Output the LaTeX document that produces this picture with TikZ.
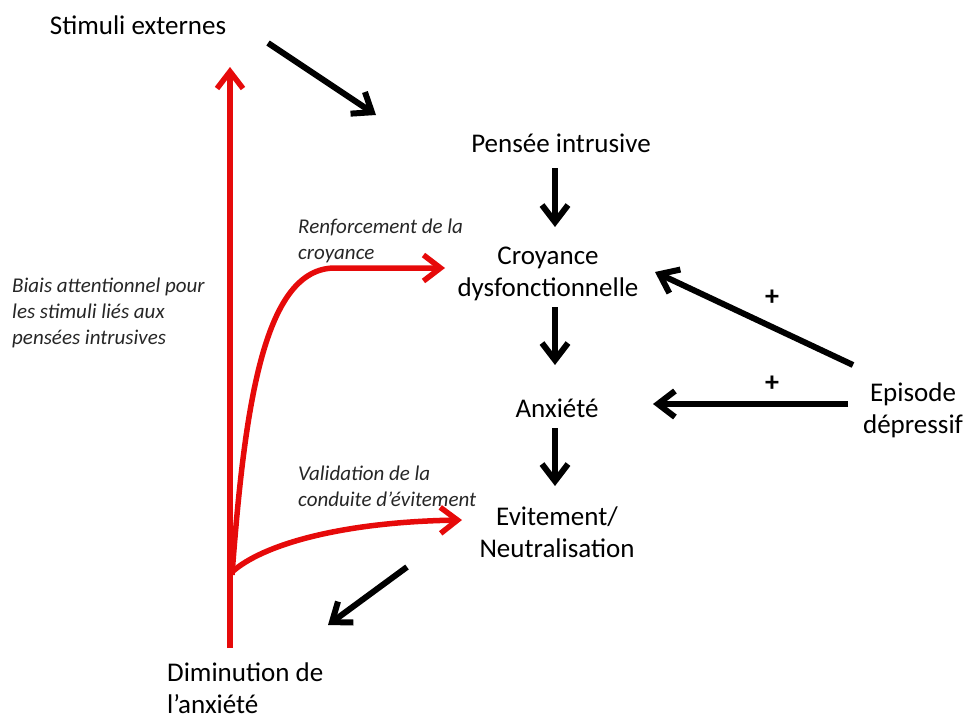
\documentclass[tikz,border=0pt]{standalone}
\usepackage{fontspec}
\setmainfont{Carlito}
\usetikzlibrary{arrows.meta}
\definecolor{myred}{RGB}{230,10,10}
\begin{document}
\begin{tikzpicture}[x=1pt,y=-1pt,
  lbl/.style={inner sep=0pt, font=\fontsize{27}{32}\selectfont, align=center},
  ital/.style={inner sep=0pt, font=\fontsize{21}{26}\selectfont\itshape, align=left, anchor=west, text=black!85},
  plus/.style={inner sep=0pt, font=\fontsize{28}{30}\selectfont\bfseries},
  blk/.style={line width=6pt, -{Straight Barb[length=17pt,width=26pt]}},
  rd/.style={line width=5.5pt, draw=myred, -{Straight Barb[length=17pt,width=26pt]}}]
\useasboundingbox (0,0) rectangle (971,720);
\node[lbl] (stim) at (138,25) {Stimuli externes};
\node[lbl] (pen) at (561,143) {Pensée intrusive};
\node[lbl] (croy) at (548,274) {Croyance\\dysfonctionnelle};
\node[lbl] (anx) at (557,408) {Anxiété};
\node[lbl] (evit) at (557,532) {Evitement/\\Neutralisation};
\node[lbl] (epi) at (913,410) {Episode\\dépressif};
\node[lbl, align=left, anchor=west] (dim) at (167,688) {Diminution de\\l’anxiété};
\node[ital] (biais) at (12,313) {Biais attentionnel pour\\les stimuli liés aux\\pensées intrusives};
\node[ital] (renf) at (298,241) {Renforcement de la\\croyance};
\node[ital] (valid) at (298,486) {Validation de la\\conduite d’évitement};
\node[plus] (p1) at (772,298) {+};
\node[plus] (p2) at (772,384) {+};
% black arrows
\draw[blk] ([shift={(130,18)}]stim.center) -- ([shift={(-185,-28)}]pen.center);
\draw[blk] ([shift={(-6,25)}]pen.center) -- ([shift={(7,-47)}]croy.center);
\draw[blk] ([shift={(7,33)}]croy.center) -- ([shift={(-2,-43)}]anx.center);
\draw[blk] ([shift={(-2,20)}]anx.center) -- ([shift={(-2,-46)}]evit.center);
\draw[blk] ([shift={(-60,-45)}]epi.center) -- ([shift={(107,-2)}]croy.center);
\draw[blk] ([shift={(-65,-6)}]epi.center) -- ([shift={(96,-4)}]anx.center);
\draw[blk] ([shift={(-150,35)}]evit.center) -- ([shift={(161,-63)}]dim.west);
% red arrows
\coordinate (branchA) at (232,575);
\coordinate (branchB) at (232,572);
\draw[rd] ([shift={(63,-40)}]dim.west) -- ([shift={(92,42)}]stim.center);
\draw[rd] (branchA) .. controls (245,400) and (265,268) .. (335,268) -- ([shift={(-103,-6)}]croy.center);
\draw[rd] (branchB) .. controls (262,545) and (340,522) .. ([shift={(-95,-12)}]evit.center);
\end{tikzpicture}
\end{document}
